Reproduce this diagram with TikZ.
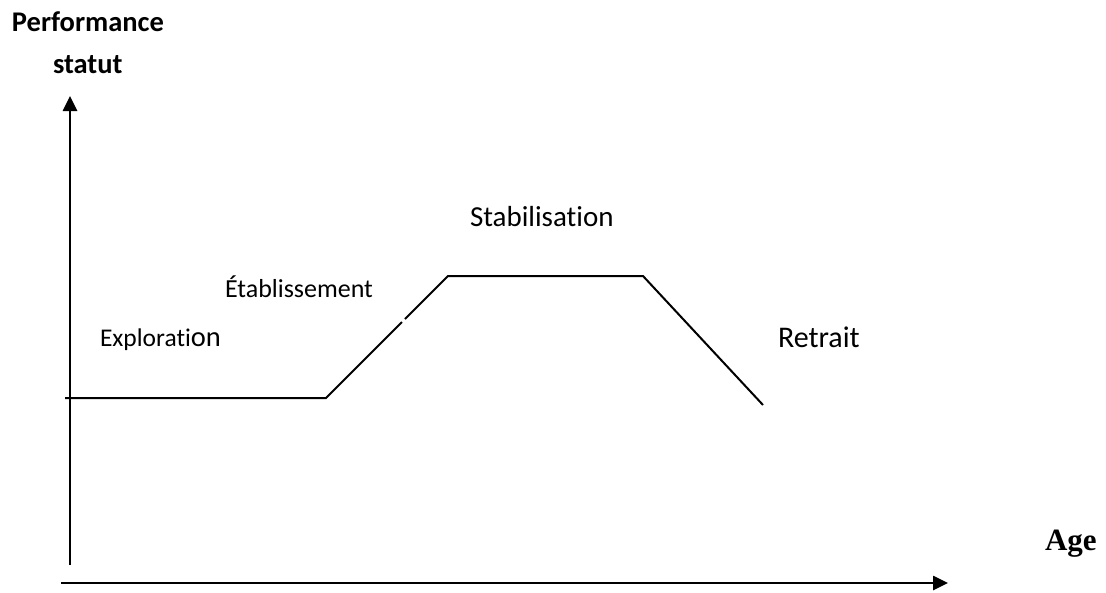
\documentclass[tikz,border=0pt]{standalone}
\usepackage{fontspec}
\setmainfont{Carlito}[Ligatures=NoCommon]
\newfontfamily\agefont{Liberation Serif}
\usetikzlibrary{arrows.meta}
\tikzset{
  axis/.style={line width=2.6pt, -{Triangle[length=15pt,width=14pt]}},
  curve/.style={line width=2pt, line join=miter},
  lbl/.style={anchor=base west, inner sep=0pt, outer sep=0pt},
}
\newcommand{\fsz}[1]{\fontsize{#1}{#1}\selectfont}
\begin{document}
\begin{tikzpicture}[x=1pt,y=-1pt]
\useasboundingbox (0,0) rectangle (1106,592);
% axes
\coordinate (yb) at (70,565);
\coordinate (yt) at (70,96);
\coordinate (xl) at (61,583);
\coordinate (xr) at (948,583);
\draw[axis] (yb) -- (yt);
\draw[axis] (xl) -- (xr);
% curve
\coordinate (c0) at (65,398);
\coordinate (c1) at (326,398);
\coordinate (g1) at (402,322);
\coordinate (g2) at (405,319);
\coordinate (c2) at (448,276);
\coordinate (c3) at (643,276);
\coordinate (c4) at (763,405);
\draw[curve] (c0) -- (c1) -- (g1);
\draw[curve] (g2) -- (c2) -- (c3) -- (c4);
% labels
\node[lbl] (perf) at (12,31) {\fsz{28.5}\bfseries Performance};
\node[lbl] (stat) at (53,73) {\fsz{28.5}\bfseries statut};
\node[lbl] (expl) at (100,346) {\fsz{25.5}Explorati{\fsz{28.5}on}};
\node[lbl] (etab) at (225,297) {\fsz{26}Établissement};
\node[lbl] (stab) at (470,226) {\fsz{29}Stabilisation};
\node[lbl] (retr) at (778,347) {\fsz{30}Retrait};
\node[lbl] (age) at (1045,550) {\agefont\fsz{31}\bfseries Age};
\end{tikzpicture}
\end{document}
